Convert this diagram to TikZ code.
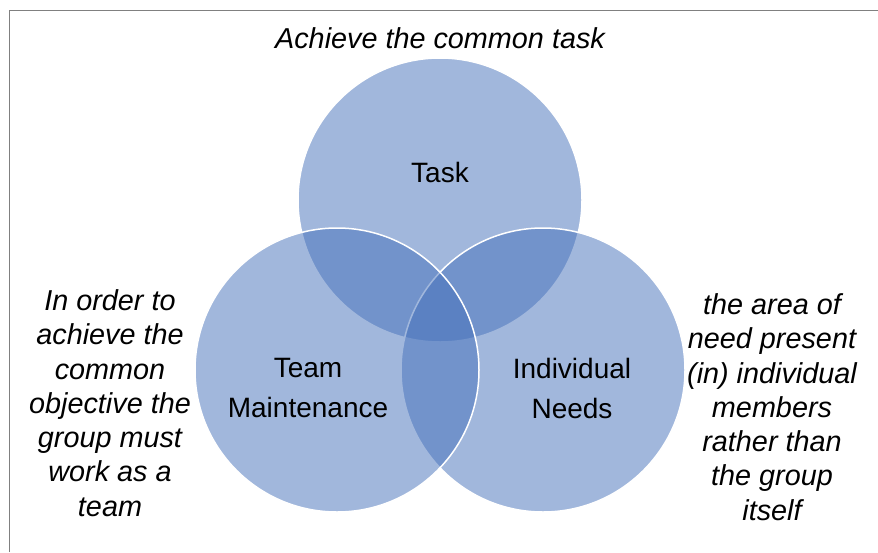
\documentclass[tikz,border=0pt]{standalone}
\usepackage{fontspec}
\setmainfont{Liberation Sans}
\begin{document}
\begin{tikzpicture}[x=1pt,y=-1pt,
  venn/.style={circle, minimum size=284pt, inner sep=0pt, fill={rgb,255:red,69;green,113;blue,187}, fill opacity=0.5, draw=white, line width=1.5pt},
  lbl/.style={align=center, font=\fontsize{28}{40}\selectfont, text=black},
  note/.style={align=center, font=\fontsize{28.8}{34.3}\selectfont\itshape, text=black}]
  \useasboundingbox (0,0) rectangle (878,552);
  \fill[white] (0,0) rectangle (878,552);
  % frame (left and top edges)
  \draw[color={rgb,255:red,128;green,128;blue,128}, line width=1.5pt] (9.5,552) -- (9.5,10.5) -- (878,10.5);

  % the three overlapping circles
  \node[venn] (task) at (440,200) {};
  \node[venn] (indiv) at (543,370) {};
  \node[venn] (team) at (337,370) {};

  % circle labels
  \node[lbl] (taskl) at (440,172) {Task};
  \node[lbl] (teaml) at (308,388) {Team\\Maintenance};
  \node[lbl] (indivl) at (572,388) {Individual\\Needs};

  % explanatory notes
  \node[note] (top) at (440,38) {Achieve the common task};
  \node[note] (left) at (110,403) {In order to\\achieve the\\common\\objective the\\group must\\work as a\\team};
  \node[note] (right) at (772,407) {the area of\\need present\\(in) individual\\members\\rather than\\the group\\itself};
\end{tikzpicture}
\end{document}
